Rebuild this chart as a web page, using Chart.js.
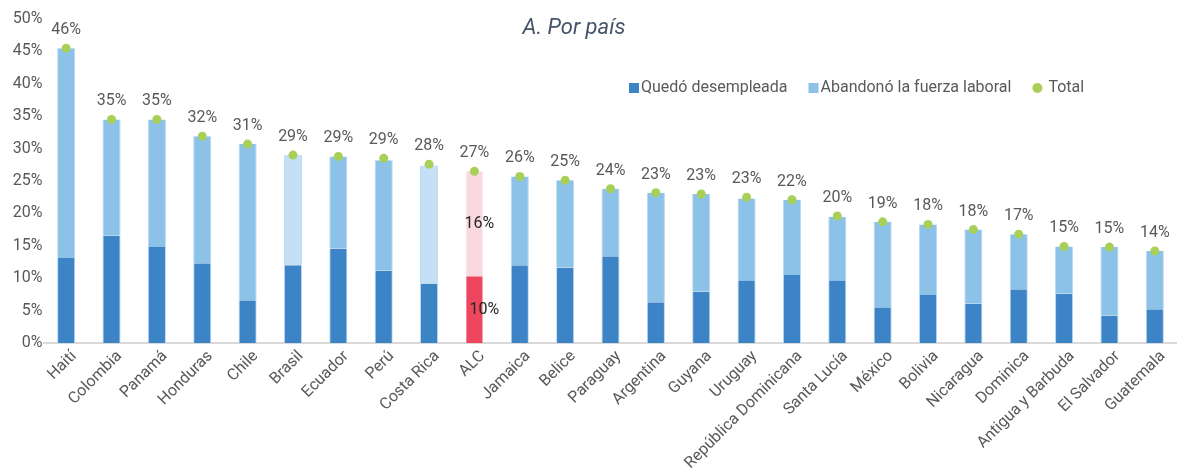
<!DOCTYPE html>
<html>
<head>
<meta charset="utf-8">
<script src="https://cdn.jsdelivr.net/npm/chart.js@4.4.1/dist/chart.umd.min.js"></script>
<style>
  html, body { margin: 0; padding: 0; background: #ffffff; overflow: hidden; }
  #wrap { width: 1182px; height: 472px; }
</style>
</head>
<body>
<div id="wrap"><canvas id="c" width="1182" height="472"></canvas></div>
<script>
const categories = ['Haití','Colombia','Panamá','Honduras','Chile','Brasil','Ecuador','Perú','Costa Rica','ALC','Jamaica','Belice','Paraguay','Argentina','Guyana','Uruguay','República Dominicana','Santa Lucía','México','Bolivia','Nicaragua','Dominica','Antigua y Barbuda','El Salvador','Guatemala'];
const desempleada = [13.1,16.6,14.8,12.3,6.6,12.0,14.6,11.2,9.2,10.3,12.0,11.6,13.4,6.3,7.9,9.7,10.5,9.7,5.5,7.4,6.1,8.3,7.6,4.2,5.2];
const abandono = [32.4,17.9,19.7,19.6,24.1,17.0,14.2,17.0,18.2,16.2,13.7,13.5,10.4,16.9,15.1,12.6,11.6,9.8,13.2,10.9,11.4,8.5,7.3,10.6,9.0];
const total = [45.5,34.5,34.5,31.9,30.7,29.0,28.8,28.5,27.6,26.5,25.7,25.1,23.8,23.2,23.0,22.5,22.1,19.6,18.7,18.3,17.5,16.8,14.9,14.8,14.2];
const yTicks = [0,5,10,15,20,25,30,35,40,45,50];
const seriesNames = ['Quedó desempleada','Abandonó la fuerza laboral','Total'];
const highlighted = 'ALC';
const paleCategories = ['Brasil','Costa Rica'];

const C = {
  dark: '#3D84C6', light: '#8DC2E8', pale: '#C5E0F4',
  red: '#EF4660', pink: '#FBD8DE', green: '#A8D058',
  text: '#595959', title: '#44546A', axis: '#D9D9D9', edge: '#B9D9F2'
};
const FONT = 'Roboto, "Open Sans", sans-serif';

const darkColors = categories.map(c => c === highlighted ? C.red : C.dark);
const lightColors = categories.map(c => c === highlighted ? C.pink : (paleCategories.includes(c) ? C.pale : C.light));
const edgeColors = categories.map(c => c === highlighted ? 'rgba(0,0,0,0)' : C.edge);

const overlay = {
  id: 'overlay',
  afterDatasetsDraw(chart) {
    const ctx = chart.ctx;
    ctx.save();
    const tm = chart.getDatasetMeta(2);
    ctx.font = '16px ' + FONT;
    ctx.fillStyle = C.text;
    ctx.textAlign = 'center';
    ctx.textBaseline = 'middle';
    tm.data.forEach((p, i) => {
      ctx.fillText(Math.round(total[i]) + '%', p.x, p.y - 18);
    });
    const hi = categories.indexOf(highlighted);
    ctx.fillStyle = '#262626';
    [0, 1].forEach((d, k) => {
      const el = chart.getDatasetMeta(d).data[hi];
      const v = d === 0 ? desempleada[hi] : abandono[hi];
      ctx.fillText(Math.round(v) + '%', el.x + (k === 0 ? 10 : 5), (el.y + el.base) / 2);
    });
    ctx.restore();
  },
  afterDraw(chart) {
    const ctx = chart.ctx;
    ctx.save();
    ctx.font = 'italic 22px ' + FONT;
    ctx.fillStyle = C.title;
    ctx.textAlign = 'center';
    ctx.textBaseline = 'middle';
    ctx.fillText('A. Por país', 574, 28);
    ctx.font = '16px ' + FONT;
    ctx.textAlign = 'left';
    let x = 629;
    const y = 88;
    const swatch = [C.dark, C.light, C.green];
    seriesNames.forEach((name, i) => {
      ctx.fillStyle = swatch[i];
      if (i < 2) {
        ctx.fillRect(x, y - 5, 10, 10);
        x += 12;
      } else {
        ctx.beginPath();
        ctx.arc(x + 5, y, 5, 0, Math.PI * 2);
        ctx.fill();
        x += 16;
      }
      ctx.fillStyle = C.text;
      ctx.fillText(name, x, y);
      x += ctx.measureText(name).width + 21;
    });
    ctx.restore();
  }
};

const sideBorder = { left: 1, right: 1, top: 0, bottom: 0 };

new Chart(document.getElementById('c'), {
  data: {
    labels: categories,
    datasets: [
      { type: 'bar', label: seriesNames[0], data: desempleada, backgroundColor: darkColors, borderColor: edgeColors, borderWidth: sideBorder, borderSkipped: false, stack: 'bars', order: 2, barPercentage: 0.4, categoryPercentage: 1 },
      { type: 'bar', label: seriesNames[1], data: abandono, backgroundColor: lightColors, borderColor: edgeColors, borderWidth: sideBorder, borderSkipped: false, stack: 'bars', order: 2, barPercentage: 0.4, categoryPercentage: 1 },
      { type: 'line', label: seriesNames[2], data: total, stack: 'total', order: 0, showLine: false,
        pointRadius: 4.5, pointBackgroundColor: C.green, pointBorderWidth: 0, pointHoverRadius: 4.5 }
    ]
  },
  options: {
    responsive: false,
    animation: false,
    events: [],
    layout: { padding: { top: 19, right: 1, bottom: 0, left: 0 } },
    plugins: { legend: { display: false }, tooltip: { enabled: false }, title: { display: false } },
    scales: {
      x: {
        stacked: true,
        grid: { display: false, drawTicks: false },
        border: { display: true, color: C.axis, width: 2 },
        ticks: { autoSkip: false, maxRotation: 45, minRotation: 45, color: C.text, font: { family: FONT, size: 16 }, padding: 4, labelOffset: 8 },
        afterFit(s) { s.height = 129; }
      },
      y: {
        stacked: true,
        min: 0, max: 50,
        afterBuildTicks(s) { s.ticks = yTicks.map(v => ({ value: v })); },
        grid: { display: false, drawTicks: false },
        border: { display: false },
        ticks: { color: C.text, font: { family: FONT, size: 16 }, padding: 1, callback: v => v + '%' },
        afterFit(s) { s.width = 43.5; }
      }
    }
  },
  plugins: [overlay]
});
</script>
</body>
</html>
